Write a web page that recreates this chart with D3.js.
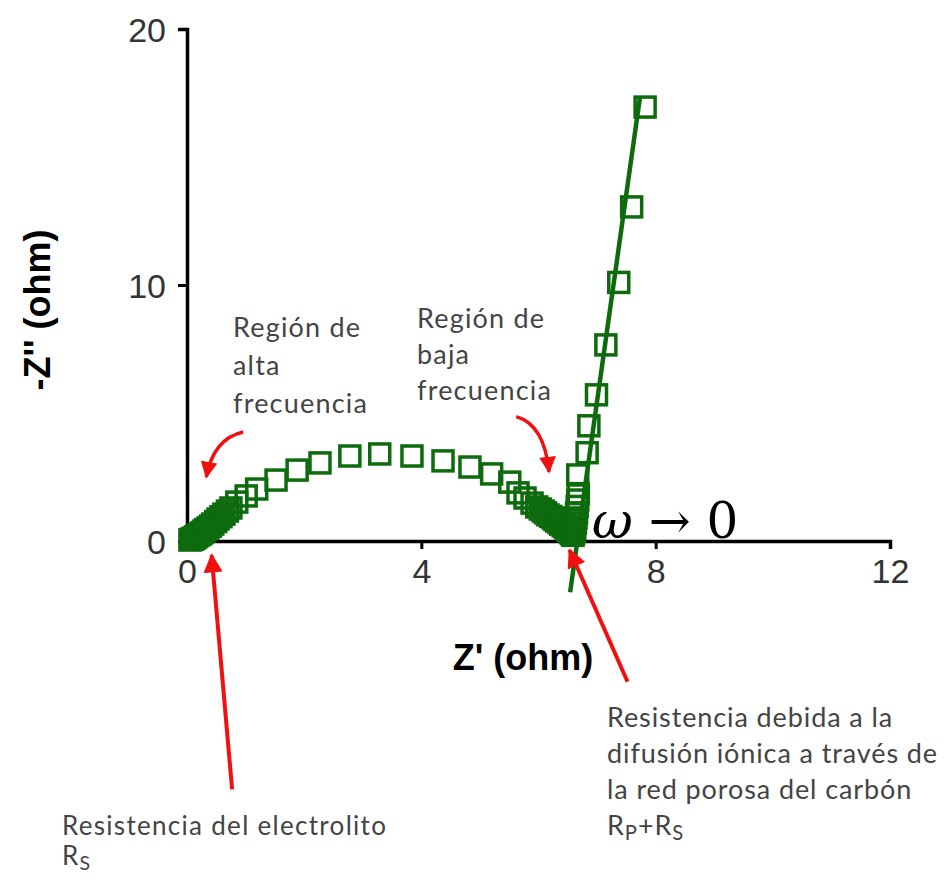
<!DOCTYPE html>
<html>
<head>
<meta charset="utf-8">
<script src="https://cdn.jsdelivr.net/npm/d3@7"></script>
<style>
  html, body { margin: 0; padding: 0; background: #ffffff; }
  svg { display: block; }
</style>
</head>
<body>
<svg id="chart" width="947" height="882"></svg>
<script>
// Nyquist plot: real part Z' vs. negative imaginary part -Z'' (ohm)
const zReal = [
  0.05, 0.07, 0.09, 0.11, 0.13, 0.15, 0.17, 0.20, 0.23, 0.26, 0.29, 0.32, 0.36, 0.40, 0.44, 0.49,
  0.53, 0.58, 0.63, 0.69, 0.75, 0.85, 1.01, 1.19, 1.52, 1.88, 2.27,
  2.78, 3.29, 3.84, 4.37, 4.83, 5.20, 5.51, 5.65, 5.77, 5.89, 5.97, 6.03, 6.08, 6.12, 6.16, 6.21,
  6.25, 6.28, 6.31, 6.35, 6.38, 6.42, 6.45, 6.48, 6.50, 6.52, 6.54, 6.56, 6.58,
  6.59, 6.60, 6.61, 6.62, 6.63, 6.64, 6.65, 6.66, 6.67, 6.68, 6.67, 6.83, 6.86, 6.99,
  7.15, 7.37, 7.59, 7.82
];
const zImag = [
  0.04, 0.06, 0.08, 0.10, 0.12, 0.16, 0.20, 0.24, 0.27, 0.33, 0.39, 0.45, 0.51, 0.58, 0.66, 0.76,
  0.86, 0.95, 1.05, 1.17, 1.29, 1.52, 1.76, 2.03, 2.38, 2.77, 3.05,
  3.32, 3.40, 3.32, 3.13, 2.89, 2.62, 2.30, 1.88, 1.68, 1.48, 1.33, 1.25, 1.17, 1.10, 1.02, 0.96,
  0.90, 0.84, 0.78, 0.72, 0.66, 0.60, 0.55, 0.49, 0.43, 0.39, 0.35, 0.30, 0.25,
  0.22, 0.30, 0.40, 0.50, 0.70, 0.90, 1.10, 1.35, 1.60, 1.85, 2.58, 3.45, 4.50, 5.71,
  7.66, 10.10, 13.05, 16.95
];

// Linear fit through the low-frequency (capacitive) branch
const fitReal = [6.54, 7.73];
const fitImag = [-2.0, 17.3];

// Axis ticks
const xTicks = [0, 4, 8, 12];
const yTicks = [0, 10, 20];
const xTitle = "Z' (ohm)";
const yTitle = "-Z'' (ohm)";

const svg = d3.select("#chart");
const x = d3.scaleLinear().domain([0, 12]).range([187, 890]);
const y = d3.scaleLinear().domain([0, 20]).range([541, 29]);

const green = "#0d6b0d";
const red = "#f01010";
const tickFont = "'Liberation Sans', Arial, sans-serif";
const noteFont = "Lato, 'Open Sans', sans-serif";

// Axes
const xAxis = d3.axisBottom(x).tickValues(xTicks).tickSize(8).tickSizeOuter(8).tickPadding(10);
const yAxis = d3.axisLeft(y).tickValues(yTicks).tickSize(9).tickSizeOuter(9).tickPadding(12);

const gx = svg.append("g").attr("transform", `translate(0,${y(0)})`).call(xAxis);
const gy = svg.append("g").attr("transform", `translate(${x(0)},0)`).call(yAxis);

[gx, gy].forEach(g => {
  g.select(".domain").attr("stroke", "#000").attr("stroke-width", 3.5);
  g.selectAll(".tick line").attr("stroke", "#000").attr("stroke-width", 3);
  g.selectAll(".tick text")
    .attr("fill", "#333")
    .style("font-family", tickFont)
    .style("font-size", "34px");
});
gy.selectAll(".tick text").attr("dy", "0.36em");

// Axis titles
svg.append("text")
  .attr("x", 523).attr("y", 670)
  .attr("text-anchor", "middle")
  .style("font-family", tickFont).style("font-weight", "bold").style("font-size", "36px")
  .attr("fill", "#000")
  .text(xTitle);

svg.append("text")
  .attr("transform", "translate(50,310) rotate(-90)")
  .attr("text-anchor", "middle")
  .style("font-family", tickFont).style("font-weight", "bold").style("font-size", "36px")
  .attr("fill", "#000")
  .text(yTitle);

// Fit line
const fitData = fitReal.map((v, i) => [v, fitImag[i]]);
svg.append("path")
  .datum(fitData)
  .attr("d", d3.line().x(d => x(d[0])).y(d => y(d[1])))
  .attr("stroke", green).attr("stroke-width", 4.5).attr("fill", "none");

// Measured points as open squares
const pts = zReal.map((v, i) => ({ re: v, im: zImag[i] }));
const sq = 20;
svg.append("g").selectAll("rect")
  .data(pts)
  .join("rect")
  .attr("x", d => x(d.re) - sq / 2)
  .attr("y", d => y(d.im) - sq / 2)
  .attr("width", sq).attr("height", sq)
  .attr("fill", "none")
  .attr("stroke", green).attr("stroke-width", 3.5);

// Arrowhead marker
svg.append("defs").append("marker")
  .attr("id", "head")
  .attr("viewBox", "0 0 10 10")
  .attr("refX", 9).attr("refY", 5)
  .attr("markerWidth", 4.8).attr("markerHeight", 4.8)
  .attr("markerUnits", "strokeWidth")
  .attr("orient", "auto")
  .append("path")
  .attr("d", "M0,0 L10,5 L0,10 Z")
  .attr("fill", red);

// Curved arrows toward the two frequency regions (data coordinates)
const arrowHigh = [[0.96, 4.26], [0.45, 4.0], [0.33, 2.50]];
const arrowLow = [[5.62, 4.86], [6.10, 4.55], [6.18, 2.70]];
[arrowHigh, arrowLow].forEach(a => {
  svg.append("path")
    .attr("d", `M${x(a[0][0])},${y(a[0][1])} Q${x(a[1][0])},${y(a[1][1])} ${x(a[2][0])},${y(a[2][1])}`)
    .attr("stroke", red).attr("stroke-width", 3.5).attr("fill", "none")
    .attr("marker-end", "url(#head)");
});

// Straight arrows to the intercepts Rs and Rp+Rs
const arrowRs = [[0.77, -9.7], [0.42, -0.55]];
const arrowRp = [[7.52, -5.5], [6.53, -0.35]];
[arrowRs, arrowRp].forEach(a => {
  svg.append("line")
    .attr("x1", x(a[0][0])).attr("y1", y(a[0][1]))
    .attr("x2", x(a[1][0])).attr("y2", y(a[1][1]))
    .attr("stroke", red).attr("stroke-width", 4)
    .attr("marker-end", "url(#head)");
});

// Text notes
function note(lines, x0, y0, lh, size, spacing) {
  const t = svg.append("text")
    .style("font-family", noteFont).style("font-size", size + "px")
    .style("letter-spacing", spacing + "px")
    .attr("fill", "#444");
  lines.forEach((ln, i) => {
    const ts = t.append("tspan").attr("x", x0).attr("y", y0 + i * lh);
    ln.forEach(part => {
      const s = ts.append("tspan").text(part.t);
      if (part.sub) s.attr("baseline-shift", "-25%").style("font-size", (size * 0.75) + "px");
    });
  });
}

note([[{ t: "Región de" }], [{ t: "alta" }], [{ t: "frecuencia" }]], 233, 337, 38, 27, 1.2);
note([[{ t: "Región de" }], [{ t: "baja" }], [{ t: "frecuencia" }]], 417, 328, 36, 27, 1.2);
note([[{ t: "Resistencia del electrolito" }], [{ t: "R" }, { t: "S", sub: true }]], 62, 835, 30, 26, 1.3);
note([
  [{ t: "Resistencia debida a la" }],
  [{ t: "difusión iónica a través de" }],
  [{ t: "la red porosa del carbón" }],
  [{ t: "R" }, { t: "P", sub: true }, { t: "+R" }, { t: "S", sub: true }]
], 607, 727, 36, 27, 0.9);

// Limit label for the low-frequency end
const omega = svg.append("text")
  .attr("x", 592).attr("y", 538)
  .style("font-family", "'DejaVu Serif', 'Liberation Serif', serif")
  .style("font-size", "50px")
  .attr("fill", "#000");
omega.append("tspan").style("font-style", "italic").text("ω");
omega.append("tspan").text(" → 0");
</script>
</body>
</html>
